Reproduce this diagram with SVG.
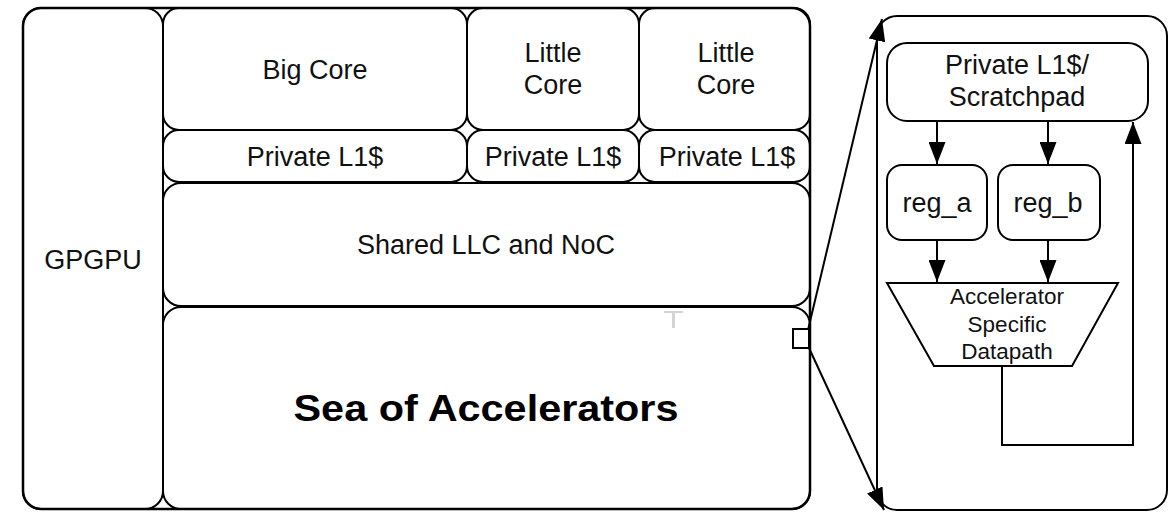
<svg xmlns="http://www.w3.org/2000/svg" width="1176" height="512" viewBox="0 0 1176 512">
  <defs>
    <style>
      .box { fill: #fff; stroke: #000; stroke-width: 2; }
      .frame { fill: none; stroke: #000; stroke-width: 2.5; }
      .wire { fill: none; stroke: #000; stroke-width: 2; }
      .lbl { font-family: "Liberation Sans", Arial, Helvetica, sans-serif; font-size: 27px; fill: #111; text-anchor: middle; }
      .small { font-size: 22.5px; }
      .big { font-weight: bold; font-size: 37px; fill: #000; }
    </style>
    <marker id="ah" viewBox="0 0 22 17" refX="22" refY="8.5" markerWidth="22" markerHeight="17" markerUnits="userSpaceOnUse" orient="auto">
      <path d="M0,0 L22,8.5 L0,17 Z" fill="#000"/>
    </marker>
  </defs>

  <rect width="1176" height="512" fill="#fff"/>

  <!-- System-on-chip floorplan -->
  <g id="gpgpu">
    <rect class="box" x="23" y="8" width="140" height="501" rx="18"/>
    <text class="lbl" x="93" y="269">GPGPU</text>
  </g>
  <g id="big-core">
    <rect class="box" x="163" y="8" width="304" height="122" rx="16"/>
    <text class="lbl" x="315" y="79">Big Core</text>
  </g>
  <g id="little-core-1">
    <rect class="box" x="467" y="8" width="172" height="122" rx="16"/>
    <text class="lbl" x="553" y="62">Little</text>
    <text class="lbl" x="553" y="94">Core</text>
  </g>
  <g id="little-core-2">
    <rect class="box" x="639" y="8" width="171" height="122" rx="16"/>
    <text class="lbl" x="726" y="62">Little</text>
    <text class="lbl" x="726" y="94">Core</text>
  </g>
  <g id="big-core-l1">
    <rect class="box" x="163" y="130" width="304" height="52" rx="16"/>
    <text class="lbl" x="315" y="166">Private L1$</text>
  </g>
  <g id="little-core-1-l1">
    <rect class="box" x="467" y="130" width="172" height="52" rx="16"/>
    <text class="lbl" x="553" y="166">Private L1$</text>
  </g>
  <g id="little-core-2-l1">
    <rect class="box" x="639" y="130" width="171" height="52" rx="16"/>
    <text class="lbl" x="727" y="166">Private L1$</text>
  </g>
  <g id="shared-llc">
    <rect class="box" x="163" y="183" width="647" height="123" rx="18"/>
    <text class="lbl" x="486" y="254">Shared LLC and NoC</text>
  </g>
  <g id="sea-of-accelerators">
    <rect class="box" x="163" y="307" width="647" height="202" rx="18"/>
    <text class="lbl big" x="486" y="421" textLength="385" lengthAdjust="spacingAndGlyphs">Sea of Accelerators</text>
    <!-- faint cursor mark -->
    <g fill="#d4d4d4">
      <rect x="664" y="311" width="19" height="2"/>
      <rect x="672" y="311" width="3" height="17"/>
    </g>
  </g>
  <rect class="frame" x="23" y="8" width="787" height="501" rx="18"/>

  <!-- one accelerator tile (selected) -->
  <g id="accel-tile">
    <rect class="box" x="793" y="329" width="16" height="19"/>
  </g>

  <!-- Zoomed-in accelerator -->
  <g id="accel-detail">
    <rect class="box" x="877" y="16" width="290" height="494" rx="20"/>
  </g>
  <g id="scratchpad">
    <rect class="box" x="887" y="43" width="261" height="78" rx="20"/>
    <text class="lbl" x="1017" y="74">Private L1$/</text>
    <text class="lbl" x="1017" y="106">Scratchpad</text>
  </g>
  <g id="reg-a">
    <rect class="box" x="887" y="165" width="100" height="75" rx="15"/>
    <text class="lbl" x="937" y="212">reg_a</text>
  </g>
  <g id="reg-b">
    <rect class="box" x="998" y="165" width="102" height="75" rx="15"/>
    <text class="lbl" x="1048" y="212">reg_b</text>
  </g>
  <g id="datapath">
    <polygon class="box" points="887,283 1118,283 1072,366 934,366"/>
    <text class="lbl small" x="1007" y="304">Accelerator</text>
    <text class="lbl small" x="1007" y="332">Specific</text>
    <text class="lbl small" x="1007" y="359">Datapath</text>
  </g>

  <!-- Connectors -->
  <g id="connectors">
    <line class="wire" x1="808" y1="330" x2="882" y2="19" marker-end="url(#ah)"/>
    <line class="wire" x1="809" y1="348" x2="884" y2="510" marker-end="url(#ah)"/>
    <line class="wire" x1="937" y1="121" x2="937" y2="164" marker-end="url(#ah)"/>
    <line class="wire" x1="1048" y1="121" x2="1048" y2="164" marker-end="url(#ah)"/>
    <line class="wire" x1="937" y1="240" x2="937" y2="282" marker-end="url(#ah)"/>
    <line class="wire" x1="1048" y1="240" x2="1048" y2="282" marker-end="url(#ah)"/>
    <polyline class="wire" points="1002,366 1002,445 1133,445 1133,122" marker-end="url(#ah)"/>
  </g>
</svg>
